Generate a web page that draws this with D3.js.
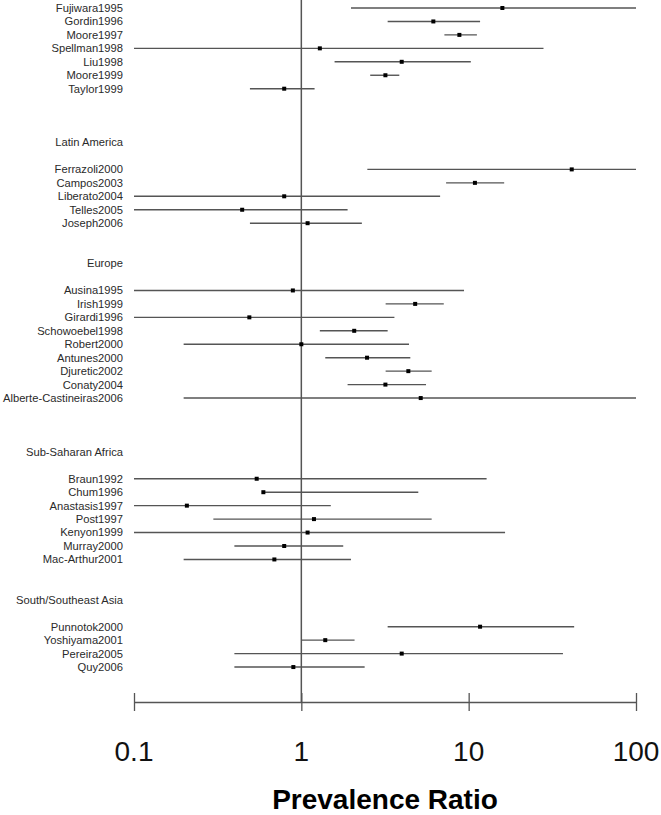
<!DOCTYPE html>
<html>
<head>
<meta charset="utf-8">
<script src="https://cdn.jsdelivr.net/npm/d3@7"></script>
<style>
  body { margin: 0; background: #fff; }
  svg { display: block; font-family: "Liberation Sans", Arial, sans-serif; }
</style>
</head>
<body>
<div></div>
<script>
// one entry per row, "" = empty spacer row, headers have no values
const rowLabels = [
  "Fujiwara1995", "Gordin1996", "Moore1997", "Spellman1998", "Liu1998", "Moore1999", "Taylor1999",
  "", "", "",
  "Latin America", "",
  "Ferrazoli2000", "Campos2003", "Liberato2004", "Telles2005", "Joseph2006",
  "", "",
  "Europe", "",
  "Ausina1995", "Irish1999", "Girardi1996", "Schowoebel1998", "Robert2000", "Antunes2000",
  "Djuretic2002", "Conaty2004", "Alberte-Castineiras2006",
  "", "", "",
  "Sub-Saharan Africa", "",
  "Braun1992", "Chum1996", "Anastasis1997", "Post1997", "Kenyon1999", "Murray2000", "Mac-Arthur2001",
  "", "",
  "South/Southeast Asia", "",
  "Punnotok2000", "Yoshiyama2001", "Pereira2005", "Quy2006"
];

const pr = [
  15.9, 6.15, 8.8, 1.29, 3.98, 3.18, 0.79,
  null, null, null, null, null,
  41.3, 10.9, 0.79, 0.443, 1.09,
  null, null, null, null,
  0.89, 4.79, 0.489, 2.07, 1.0, 2.47, 4.36, 3.18, 5.17,
  null, null, null, null, null,
  0.541, 0.593, 0.207, 1.19, 1.09, 0.79, 0.69,
  null, null, null, null,
  11.7, 1.39, 3.98, 0.896
];

const ciLow = [
  1.98, 3.28, 7.16, 0.05, 1.58, 2.58, 0.493,
  null, null, null, null, null,
  2.48, 7.33, 0.05, 0.05, 0.493,
  null, null, null, null,
  0.05, 3.19, 0.05, 1.29, 0.198, 1.39, 3.19, 1.89, 0.198,
  null, null, null, null, null,
  0.05, 0.59, 0.05, 0.298, 0.05, 0.398, 0.198,
  null, null, null, null,
  3.28, 1.0, 0.398, 0.398
];

const ciHigh = [
  150, 11.7, 11.2, 28.0, 10.3, 3.85, 1.20,
  null, null, null, null, null,
  150, 16.3, 6.75, 1.89, 2.30,
  null, null, null, null,
  9.38, 7.10, 3.60, 3.28, 4.40, 4.48, 6.01, 5.56, 150,
  null, null, null, null, null,
  12.8, 5.0, 1.50, 6.01, 16.5, 1.78, 1.98,
  null, null, null, null,
  42.7, 2.08, 36.6, 2.39
];

const tickValues = [0.1, 1, 10, 100];
const tickText = ["0.1", "1", "10", "100"];
const axisTitle = "Prevalence Ratio";

const width = 661;
const height = 815;
const axisY = 702;

const xScale = d3.scaleLog()
  .domain([0.1, 100])
  .range([134, 636])
  .clamp(true);

const yScale = d3.scalePoint()
  .domain(d3.range(rowLabels.length))
  .range([8, 8 + (rowLabels.length - 1) * 13.45]);

const svg = d3.select("div")
  .append("svg")
  .attr("width", width)
  .attr("height", height);

// reference line at 1
svg.append("line")
  .attr("x1", xScale(1)).attr("x2", xScale(1))
  .attr("y1", 0).attr("y2", axisY)
  .attr("stroke", "#555")
  .attr("stroke-width", 1.5);

const rows = rowLabels.map((label, i) => ({label, i, pr: pr[i], lo: ciLow[i], hi: ciHigh[i]}));

svg.selectAll("text.row")
  .data(rows.filter(d => d.label !== ""))
  .enter()
  .append("text")
  .attr("class", "row")
  .attr("x", 123)
  .attr("y", d => yScale(d.i))
  .attr("dy", "0.35em")
  .attr("text-anchor", "end")
  .attr("font-size", "11.2px")
  .attr("fill", "#2a2a2a")
  .text(d => d.label);

const studies = rows.filter(d => d.pr != null);

svg.selectAll("line.ci")
  .data(studies)
  .enter()
  .append("line")
  .attr("class", "ci")
  .attr("x1", d => xScale(d.lo))
  .attr("x2", d => xScale(d.hi))
  .attr("y1", d => yScale(d.i))
  .attr("y2", d => yScale(d.i))
  .attr("stroke", "#555")
  .attr("stroke-width", 1.4);

svg.selectAll("rect.pt")
  .data(studies)
  .enter()
  .append("rect")
  .attr("class", "pt")
  .attr("x", d => xScale(d.pr) - 2)
  .attr("y", d => yScale(d.i) - 2)
  .attr("width", 4)
  .attr("height", 4)
  .attr("fill", "#000");

// x axis
const axis = svg.append("g")
  .attr("transform", `translate(0,${axisY})`)
  .call(d3.axisBottom(xScale).tickValues(tickValues).tickSize(0).tickFormat(""));

axis.select(".domain").attr("stroke", "#555").attr("stroke-width", 1.3);
axis.selectAll(".tick line")
  .attr("y1", -9).attr("y2", 9)
  .attr("stroke", "#555").attr("stroke-width", 1.3);

svg.selectAll("text.tick")
  .data(tickValues)
  .enter()
  .append("text")
  .attr("class", "tick")
  .attr("x", d => xScale(d))
  .attr("y", 761)
  .attr("text-anchor", "middle")
  .attr("font-size", "28px")
  .attr("fill", "#111")
  .text((d, i) => tickText[i]);

svg.append("text")
  .attr("x", 385)
  .attr("y", 809)
  .attr("text-anchor", "middle")
  .attr("font-size", "28px")
  .attr("font-weight", "bold")
  .attr("fill", "#000")
  .text(axisTitle);
</script>
</body>
</html>
